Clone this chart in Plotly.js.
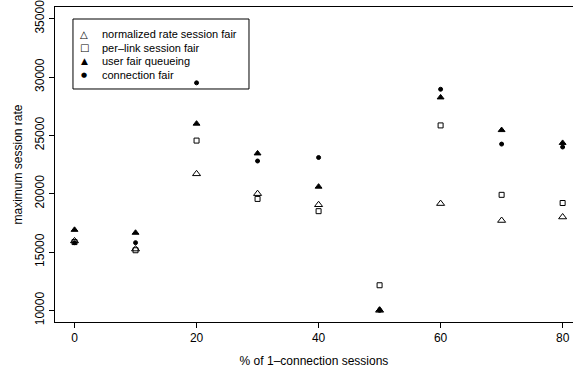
<!DOCTYPE html>
<html>
<head>
<meta charset="utf-8">
<script src="https://cdn.plot.ly/plotly-3.0.1.min.js"></script>
<style>html,body{margin:0;padding:0;background:#fff;}#chart{width:573px;height:369px;}</style>
</head>
<body>
<div id="chart"></div>
<script>
var pctOneConn = [0, 10, 20, 30, 40, 50, 60, 70, 80];
var normalizedRate = [15950, 15250, 21700, 20000, 19050, 10000, 19150, 17700, 18000];
var perLink = [15850, 15150, 24550, 19550, 18500, 12150, 25850, 19900, 19200];
var userFair = [16900, 16650, 26000, 23450, 20600, 10050, 28250, 25450, 24350];
var connFair = [15800, 15800, 29500, 22800, 23100, 10000, 28950, 24250, 24000];
var seriesNames = ["normalized rate session fair", "per\u2013link session fair", "user fair queueing", "connection fair"];
var legendGlyphs = ["\u25B3", "\u25A1", "\u25B2", "\u25CF"];
var yTicks = [10000, 15000, 20000, 25000, 30000, 35000];
var xTicks = [0, 20, 40, 60, 80];

function tr(y, name, sym, size) {
  return {x: pctOneConn, y: y, name: name, type: 'scatter', mode: 'markers', showlegend: false,
    marker: {symbol: sym, size: size, color: '#000', line: {color: '#000', width: 1}}};
}
var data = [
  tr(normalizedRate, seriesNames[0], 'triangle-up-open', 7),
  tr(perLink, seriesNames[1], 'square-open', 5),
  tr(userFair, seriesNames[2], 'triangle-up', 6),
  tr(connFair, seriesNames[3], 'circle', 4)
];
var font = {family: 'Liberation Sans, Arial, sans-serif', size: 12, color: '#000'};

// manual legend (R-style compact)
var legRows = [0.9133, 0.8708, 0.8286, 0.7841];
var glyphSizes = [10, 10, 9, 7];
var annotations = [];
for (var i = 0; i < seriesNames.length; i++) {
  annotations.push({xref: 'paper', yref: 'paper', x: 0.0869, y: legRows[i], xanchor: 'left', yanchor: 'middle',
    text: seriesNames[i], showarrow: false,
    font: {family: 'Liberation Sans, Arial, sans-serif', size: 11, color: '#000'}});
  annotations.push({xref: 'paper', yref: 'paper', x: 0.0566, y: legRows[i], xanchor: 'center', yanchor: 'middle',
    text: legendGlyphs[i], showarrow: false,
    font: {family: 'DejaVu Sans, sans-serif', size: glyphSizes[i], color: '#000'}});
}
var layout = {
  width: 573, height: 369,
  margin: {l: 55, r: 0, t: 7, b: 47},
  paper_bgcolor: '#fff', plot_bgcolor: '#fff',
  font: font,
  showlegend: false,
  annotations: annotations,
  shapes: [{type: 'rect', xref: 'paper', yref: 'paper', x0: 0.0347, x1: 0.3745, y0: 0.7397, y1: 0.9619,
    line: {color: '#000', width: 1}, fillcolor: 'rgba(0,0,0,0)'}],
  xaxis: {range: [-3.2, 81.7], tickvals: xTicks, ticktext: xTicks.map(String),
    showgrid: false, zeroline: false, showline: true, linecolor: '#000', linewidth: 1,
    mirror: true, ticks: 'outside', ticklen: 5, tickcolor: '#000', ticklabeloverflow: 'allow',
    title: {text: '% of 1\u2013connection sessions', font: font, standoff: 12}},
  yaxis: {range: [9000, 36000], tickvals: yTicks, ticktext: yTicks.map(String),
    tickangle: -90, showgrid: false, zeroline: false, showline: true, linecolor: '#000', linewidth: 1,
    ticks: 'outside', ticklen: 5, tickcolor: '#000', ticklabeloverflow: 'allow',
    title: {text: 'maximum session rate', font: font, standoff: 8}}
};
Plotly.newPlot('chart', data, layout, {displayModeBar: false, staticPlot: true});
</script>
</body>
</html>
